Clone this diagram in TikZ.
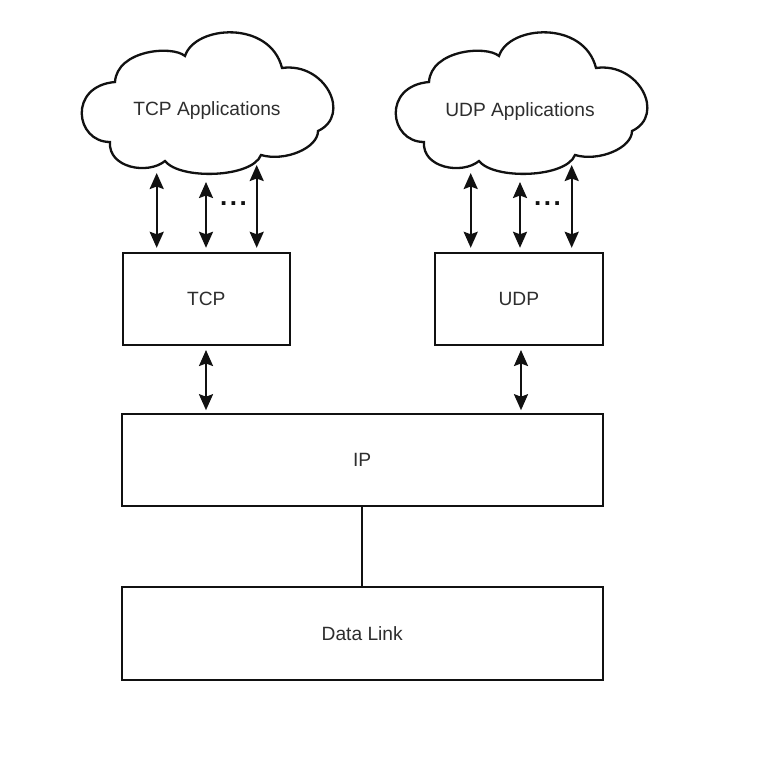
\documentclass[tikz,border=0pt]{standalone}
\usepackage{fontspec}
\setmainfont{Liberation Sans}
\usetikzlibrary{arrows.meta}
\definecolor{txt}{HTML}{2E2E2E}
\definecolor{ln}{HTML}{111111}
\begin{document}
\begin{tikzpicture}[x=1pt,y=-1pt,
  lbl/.style={font=\fontsize{19.2}{23}\selectfont, text=txt, inner sep=0pt},
  layerbox/.style={draw=ln, line width=2.3pt, rectangle, outer sep=0pt, inner sep=0pt,
    font=\fontsize{19.2}{23}\selectfont, text=txt},
  biarrow/.style={draw=ln, line width=2.3pt,
    {Stealth[length=16pt,width=14pt,inset=2.5pt]}-{Stealth[length=16pt,width=14pt,inset=2.5pt]}},
  cloudline/.style={draw=ln, line width=2.3pt, line join=miter},
  dotsstyle/.style={font=\bfseries\fontsize{26}{30}\selectfont, text=ln, inner sep=0pt},
  cloudshape/.pic={
    \path[cloudline] (115,82) .. controls (117,50) and (172,45) .. (185,56)
      .. controls (195,25) and (270,20) .. (282,68)
      .. controls (325,62) and (352,115) .. (318,131)
      .. controls (318,148) and (285,162) .. (261,155)
      .. controls (252,178) and (180,180) .. (165,161)
      .. controls (148,175) and (108,168) .. (110,142)
      .. controls (75,142) and (68,86) .. (115,82) -- cycle;
  }]
\useasboundingbox[fill=white] (0,0) rectangle (784,768);

% clouds
\pic at (0,0) {cloudshape};
\pic at (314,0) {cloudshape};
\node[lbl] (tcpapp) at (207,111) {TCP Applications};
\node[lbl] (udpapp) at (520,112) {UDP Applications};

% boxes
\node[layerbox, minimum width=167pt, minimum height=92pt] (tcp) at (206.3,298.8) {TCP};
\node[layerbox, minimum width=168pt, minimum height=92pt] (udp) at (518.8,298.8) {UDP};
\node[layerbox, minimum width=481pt, minimum height=92pt] (ip) at (362.2,460.2) {IP};
\node[layerbox, minimum width=481pt, minimum height=93pt] (dl) at (362.2,633.3) {Data Link};

% arrow ends on the clouds
\coordinate (t1) at (156.7,173);
\coordinate (t2) at (206,182);
\coordinate (t3) at (256.7,165);
\coordinate (u1) at (470.7,173);
\coordinate (u2) at (520,182);
\coordinate (u3) at (571.7,165);

\foreach \c in {t1,t2,t3}
  \draw[biarrow, shorten >=5pt] (\c) -- (\c |- tcp.north);
\foreach \c in {u1,u2,u3}
  \draw[biarrow, shorten >=5pt] (\c) -- (\c |- udp.north);

\node[dotsstyle] (tdots) at (233.5,204) {.\hspace{2.5pt}.\hspace{2.5pt}.};
\node[dotsstyle] (udots) at (547.5,204) {.\hspace{2.5pt}.\hspace{2.5pt}.};

% transport to IP
\coordinate (tb) at (206,345);
\coordinate (ub) at (521,345);
\draw[biarrow, shorten <=5pt, shorten >=4pt] (tb) -- (tb |- ip.north);
\draw[biarrow, shorten <=5pt, shorten >=4pt] (ub) -- (ub |- ip.north);

% IP to data link
\draw[draw=ln, line width=2.3pt] (ip.south) -- (dl.north);
\end{tikzpicture}
\end{document}
